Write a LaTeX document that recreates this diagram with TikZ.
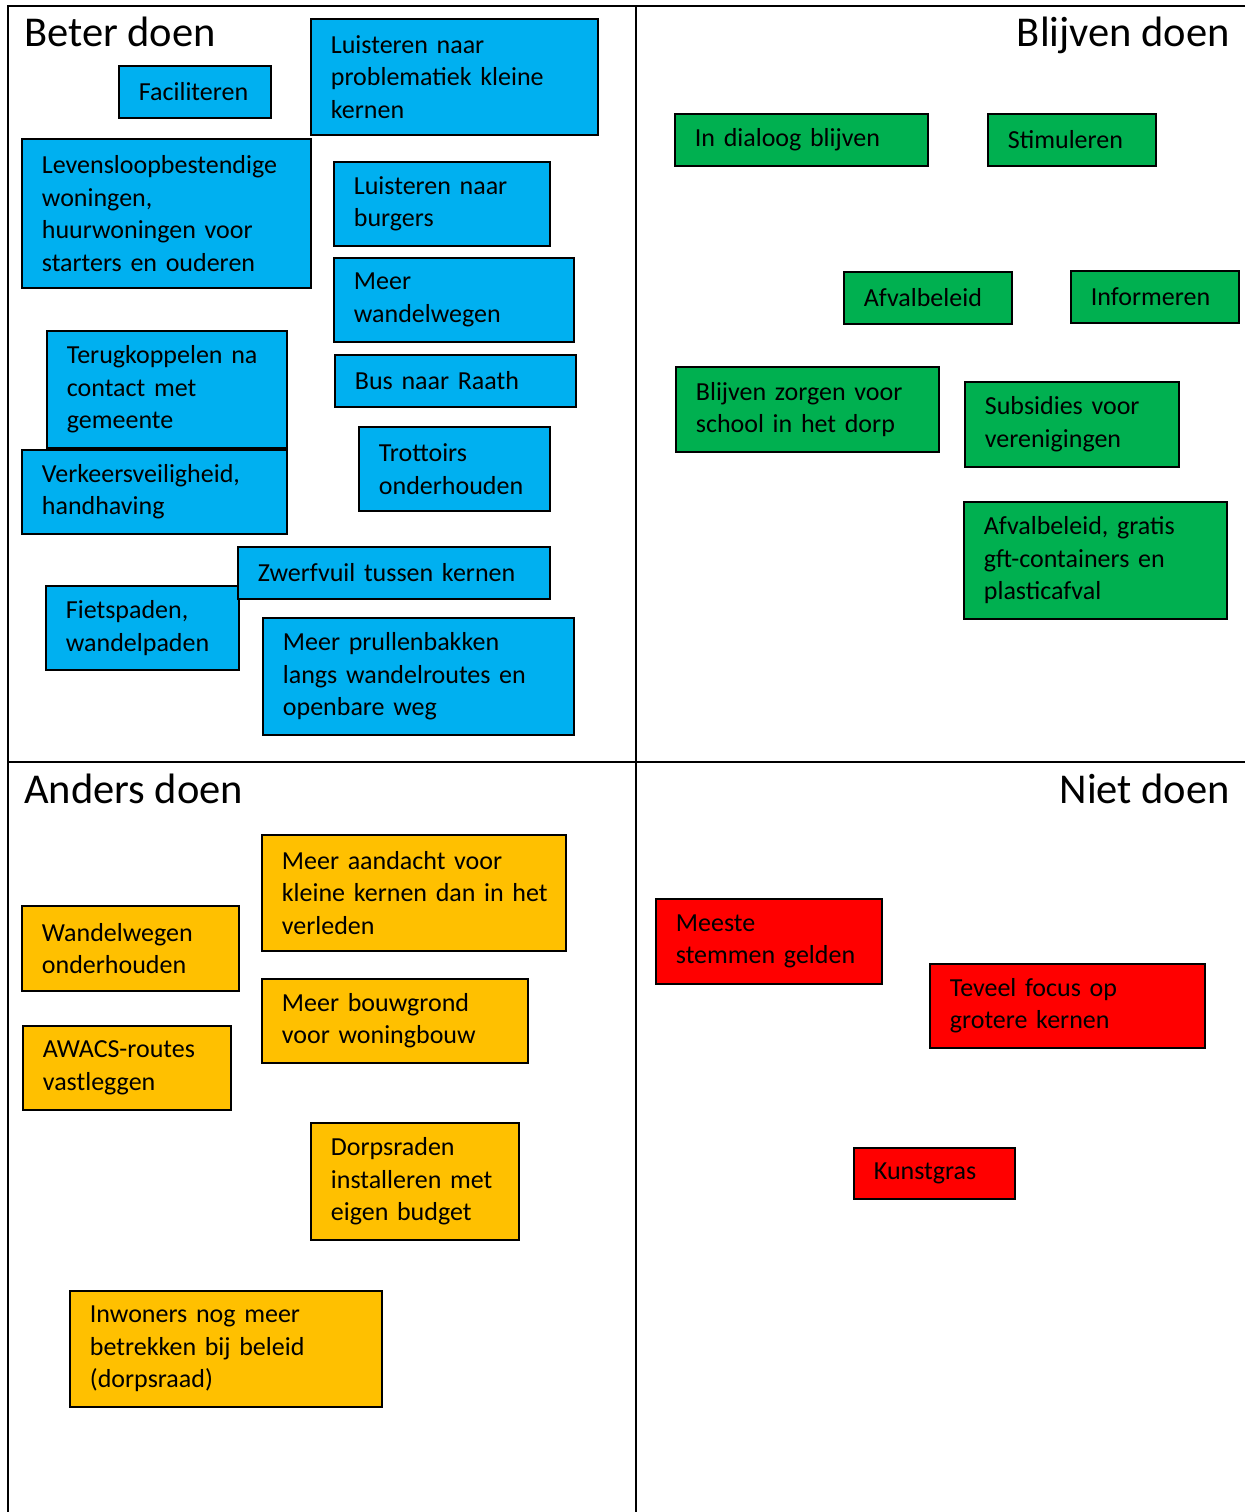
\documentclass[tikz,border=0pt]{standalone}
\usepackage{fontspec}
\setmainfont{Carlito}
\definecolor{cblue}{HTML}{00B0F0}
\definecolor{cgreen}{HTML}{00B050}
\definecolor{corange}{HTML}{FFC000}
\definecolor{cred}{HTML}{FF0000}
\hyphenpenalty=10000
\exhyphenpenalty=10000
\begin{document}
\begin{tikzpicture}[x=1pt,y=-1pt,
  card/.style={draw=black, line width=1.8pt, anchor=north west, inner xsep=20pt, inner ysep=0pt,
    align=left, font=\fontsize{26}{32.5}\selectfont},
  ttl/.style={inner sep=0pt, font=\fontsize{42.5}{50}\selectfont},
  frame/.style={line width=2pt}]
\useasboundingbox (0,0) rectangle (1245,1512);
% frame
\coordinate (tl) at (8,6); \coordinate (tr) at (1245,6);
\coordinate (tm) at (636,6); \coordinate (bm) at (636,1512);
\coordinate (bl) at (8,1512);
\coordinate (ml) at (8,762); \coordinate (mr) at (1245,762);
\draw[frame] (tr) -- (tl) -- (bl);
\draw[frame] (tm) -- (bm);
\draw[frame] (ml) -- (mr);
% titles
\node[ttl, anchor=base west] (t1) at (24,47) {Beter doen};
\node[ttl, anchor=base east] (t2) at (1230,47) {Blijven doen};
\node[ttl, anchor=base west] (t3) at (24,803) {Anders doen};
\node[ttl, anchor=base east] (t4) at (1230,803) {Niet doen};
% blue
\node[card, fill=cblue, text width=112pt, minimum height=52pt] (fac) at (118,65) {Faciliteren};
\node[card, fill=cblue, text width=247pt, minimum height=116pt] (luis1) at (310,18) {Luisteren naar\\problematiek kleine\\kernen};
\node[card, fill=cblue, text width=249pt, minimum height=149pt] (lev) at (21,138) {Levensloopbestendige\\woningen,\\huurwoningen voor\\starters en ouderen};
\node[card, fill=cblue, text width=176pt, minimum height=84pt] (luis2) at (333,161) {Luisteren naar\\burgers};
\node[card, fill=cblue, text width=200pt, minimum height=84pt] (wand) at (333,257) {Meer\\wandelwegen};
\node[card, fill=cblue, text width=201pt, minimum height=52pt] (bus) at (334,354) {Bus naar Raath};
\node[card, fill=cblue, text width=200pt, minimum height=117pt] (terug) at (46,330) {Terugkoppelen~na\\contact met\\gemeente};
\node[card, fill=cblue, text width=225pt, minimum height=84pt] (verk) at (21,449) {Verkeersveiligheid,\\handhaving};
\node[card, fill=cblue, text width=151pt, minimum height=84pt] (trot) at (358,426) {Trottoirs\\onderhouden};
\node[card, fill=cblue, text width=153pt, minimum height=84pt] (fiets) at (45,585) {Fietspaden,\\wandelpaden};
\node[card, fill=cblue, text width=272pt, minimum height=52pt] (zwerf) at (237,546) {Zwerfvuil~tussen~kernen};
\node[card, fill=cblue, text width=271pt, minimum height=117pt] (prul) at (262,617) {Meer prullenbakken\\langs~wandelroutes~en\\openbare weg};
% green
\node[card, fill=cgreen, text width=213pt, minimum height=52pt] (dia) at (674,113) {In dialoog blijven};
\node[card, fill=cgreen, text width=128pt, minimum height=52pt] (stim) at (987,113) {Stimuleren};
\node[card, fill=cgreen, text width=128pt, minimum height=52pt] (afv) at (843,271) {Afvalbeleid};
\node[card, fill=cgreen, text width=128pt, minimum height=52pt] (inf) at (1070,270) {Informeren};
\node[card, fill=cgreen, text width=223pt, minimum height=85pt] (school) at (675,366) {Blijven~zorgen~voor\\school~in~het~dorp};
\node[card, fill=cgreen, text width=174pt, minimum height=85pt] (subs) at (964,381) {Subsidies~voor\\verenigingen};
\node[card, fill=cgreen, text width=223pt, minimum height=117pt] (afv2) at (963,501) {Afvalbeleid,~gratis\\gft-containers~en\\plasticafval};
% orange
\node[card, fill=corange, text width=264pt, minimum height=116pt] (aand) at (261,834) {Meer~aandacht~voor\\kleine~kernen~dan~in~het\\verleden};
\node[card, fill=corange, text width=177pt, minimum height=85pt] (wandon) at (21,905) {Wandelwegen\\onderhouden};
\node[card, fill=corange, text width=226pt, minimum height=84pt] (bouw) at (261,978) {Meer bouwgrond\\voor woningbouw};
\node[card, fill=corange, text width=168pt, minimum height=84pt] (awacs) at (22,1025) {AWACS-routes\\vastleggen};
\node[card, fill=corange, text width=168pt, minimum height=117pt] (dorps) at (310,1122) {Dorpsraden\\installeren~met\\eigen budget};
\node[card, fill=corange, text width=272pt, minimum height=116pt] (inw) at (69,1290) {Inwoners~nog~meer\\betrekken~bij~beleid\\(dorpsraad)};
% red
\node[card, fill=cred, text width=186pt, minimum height=85pt] (meest) at (655,898) {Meeste\\stemmen~gelden};
\node[card, fill=cred, text width=235pt, minimum height=84pt] (tev) at (929,963) {Teveel~focus~op\\grotere~kernen};
\node[card, fill=cred, text width=121pt, minimum height=51pt] (kunst) at (853,1147) {Kunstgras};
\end{tikzpicture}
\end{document}
